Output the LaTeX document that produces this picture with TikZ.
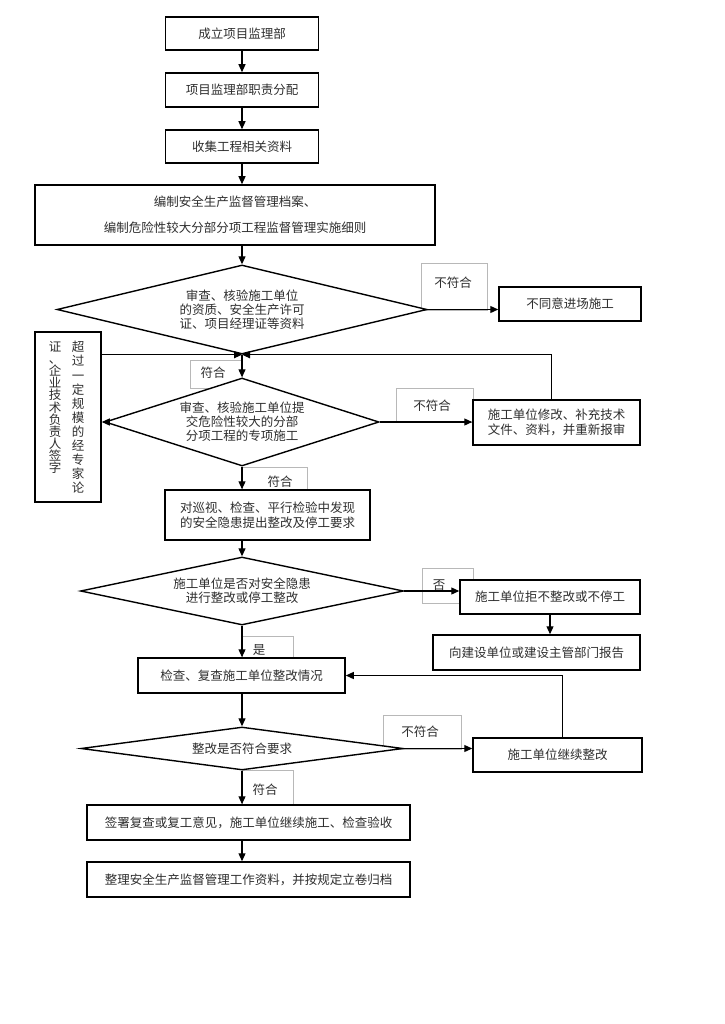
\documentclass[tikz,border=0pt]{standalone}
\usepackage{fontspec}
\setmainfont{Noto Sans CJK SC}
\usetikzlibrary{shapes.geometric,arrows.meta}
\tikzset{
  every node/.style={text=black!82, font=\fontsize{12.5}{15}\selectfont},
  procbox/.style={draw=black, line width=1.5pt, fill=white, inner sep=0pt, align=center},
  decide/.style={draw=black, line width=1.4pt, fill=white, diamond, inner sep=0pt, align=center,
     font=\fontsize{12.5}{14}\selectfont},
  flow/.style={draw=black, line width=1.2pt, -{Triangle[length=8pt,width=7pt]}},
  frame/.style={draw=black!28, line width=0.5pt},
  lbl/.style={inner sep=0pt},
}
\begin{document}
\begin{tikzpicture}[x=1pt,y=-1pt]
\useasboundingbox[fill=white] (0,0) rectangle (724,1024);

% label frames (behind everything)
\draw[frame] (421,263) rectangle (487,310);
\draw[frame] (190,360) rectangle (242,388);
\draw[frame] (396,388) rectangle (473,422);
\draw[frame] (242,467) rectangle (307,490);
\draw[frame] (422,568) rectangle (473,603);
\draw[frame] (242,636) rectangle (293,658);
\draw[frame] (383,715) rectangle (461,749);
\draw[frame] (242,770) rectangle (293,805);

% main column
\node[procbox, minimum width=153pt, minimum height=33pt] (b1) at (242,33.5) {成立项目监理部};
\node[procbox, minimum width=153pt, minimum height=34pt] (b2) at (242,90) {项目监理部职责分配};
\node[procbox, minimum width=153pt, minimum height=33pt] (b3) at (242,146.5) {收集工程相关资料};
\node[procbox, minimum width=400pt, minimum height=60pt, font=\fontsize{12.5}{26}\selectfont] (b4) at (235,215)
  {编制安全生产监督管理档案、\\编制危险性较大分部分项工程监督管理实施细则};

\node[decide, minimum width=370pt, minimum height=89pt, aspect=4.1] (d1) at (242,309.5)
  {审查、核验施工单位\\的资质、安全生产许可\\证、项目经理证等资料};
\node[procbox, minimum width=142pt, minimum height=34pt] (nogo) at (570,304) {不同意进场施工};

\node[procbox, minimum width=66pt, minimum height=170pt] (lbox) at (68,417) {};
\node[lbl, align=center, font=\fontsize{12.5}{14.1}\selectfont] (lcolR) at (78,417.5)
  {超\\过\\一\\定\\规\\模\\的\\经\\专\\家\\论};
\node[lbl, align=center, font=\fontsize{12.5}{12.1}\selectfont] (lcolL) at (55,407.5)
  {证\\、\\企\\业\\技\\术\\负\\责\\人\\签\\字};

\node[decide, minimum width=274pt, minimum height=88pt, aspect=3.1] (d2) at (242,422)
  {审查、核验施工单位提\\交危险性较大的分部\\分项工程的专项施工};
\node[procbox, minimum width=167pt, minimum height=45pt] (fix) at (556.5,422.5) {};
\node[lbl, align=left] (fixtxt) at (fix) {施工单位修改、补充技术\\文件、资料，并重新报审};

\node[procbox, minimum width=205pt, minimum height=50pt] (b5) at (267.5,515)
  {对巡视、检查、平行检验中发现\\的安全隐患提出整改及停工要求};

\node[decide, minimum width=323pt, minimum height=68pt, aspect=4.75] (d3) at (242,591)
  {施工单位是否对安全隐患\\进行整改或停工整改};
\node[procbox, minimum width=180pt, minimum height=34pt] (refuse) at (550,597) {施工单位拒不整改或不停工};
\node[procbox, minimum width=207pt, minimum height=35pt] (report) at (536.5,652.5) {向建设单位或建设主管部门报告};

\node[procbox, minimum width=207pt, minimum height=35pt] (b6) at (241.5,675.5) {检查、复查施工单位整改情况};
\node[decide, minimum width=322pt, minimum height=43pt, aspect=7.5] (d4) at (242,748.5) {整改是否符合要求};
\node[procbox, minimum width=169pt, minimum height=34pt] (cont) at (557.5,755) {施工单位继续整改};

\node[procbox, minimum width=323pt, minimum height=35pt] (b7) at (248.5,822.5)
  {签署复查或复工意见，施工单位继续施工、检查验收};
\node[procbox, minimum width=323pt, minimum height=35pt] (b8) at (248.5,879.5)
  {整理安全生产监督管理工作资料，并按规定立卷归档};

% labels
\node[lbl] (l1) at (453,283) {不符合};
\node[lbl] (l2) at (213,373) {符合};
\node[lbl] (l3) at (432,406) {不符合};
\node[lbl] (l4) at (280,482) {符合};
\node[lbl] (l5) at (439,585) {否};
\node[lbl] (l6) at (259,650) {是};
\node[lbl] (l7) at (420,732) {不符合};
\node[lbl] (l8) at (265,790) {符合};

% connectors
\draw[flow] (b1) -- (b2);
\draw[flow] (b2) -- (b3);
\draw[flow] (b3) -- (b3 |- b4.north);
\draw[flow] (b4.south -| d1.north) -- (d1.north);
\draw[flow] (d1.east) -- (d1.east -| nogo.west);
\draw[flow] (d1.south) -- (d2.north);
\draw[flow] (lbox.east |- d1.south) -- (d1.south);
\draw[flow] ([xshift=-5pt]fix.north) |- (d1.south);
\draw[flow] (d2.west) -- (d2.west -| lbox.east);
\draw[flow] (d2.east) -- (d2.east -| fix.west);
\draw[flow] (d2.south) -- (d2.south |- b5.north);
\draw[flow] (b5.south -| d3.north) -- (d3.north);
\draw[flow] (d3.east) -- (d3.east -| refuse.west);
\draw[flow] (refuse.south) -- (refuse.south |- report.north);
\draw[flow] (d3.south) -- (d3.south |- b6.north);
\draw[flow] (b6.south -| d4.north) -- (d4.north);
\draw[flow] (d4.east) -- (d4.east -| cont.west);
\draw[flow] ([xshift=5pt]cont.north) |- (b6.east);
\draw[flow] (d4.south) -- (d4.south |- b7.north);
\draw[flow] (b7.south -| d4.south) -- (b8.north -| d4.south);
\end{tikzpicture}
\end{document}
